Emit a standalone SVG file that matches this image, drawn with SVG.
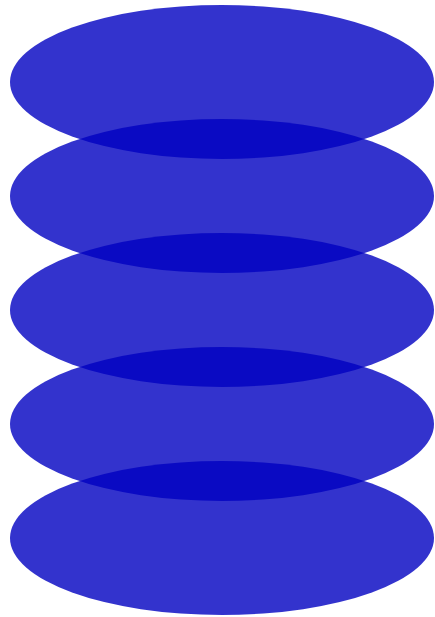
<svg xmlns="http://www.w3.org/2000/svg" width="435" height="617" viewBox="0 0 435 617">
<style>
.disc { fill: rgb(0,0,192); fill-opacity: 0.8; }
</style>
<rect width="435" height="617" fill="#ffffff"/>
<g id="disc1"><ellipse class="disc" cx="222" cy="82" rx="212" ry="77"/></g>
<g id="disc2"><ellipse class="disc" cx="222" cy="196" rx="212" ry="77"/></g>
<g id="disc3"><ellipse class="disc" cx="222" cy="310" rx="212" ry="77"/></g>
<g id="disc4"><ellipse class="disc" cx="222" cy="424" rx="212" ry="77"/></g>
<g id="disc5"><ellipse class="disc" cx="222" cy="538" rx="212" ry="77"/></g>
<g id="connectors"></g>
</svg>
